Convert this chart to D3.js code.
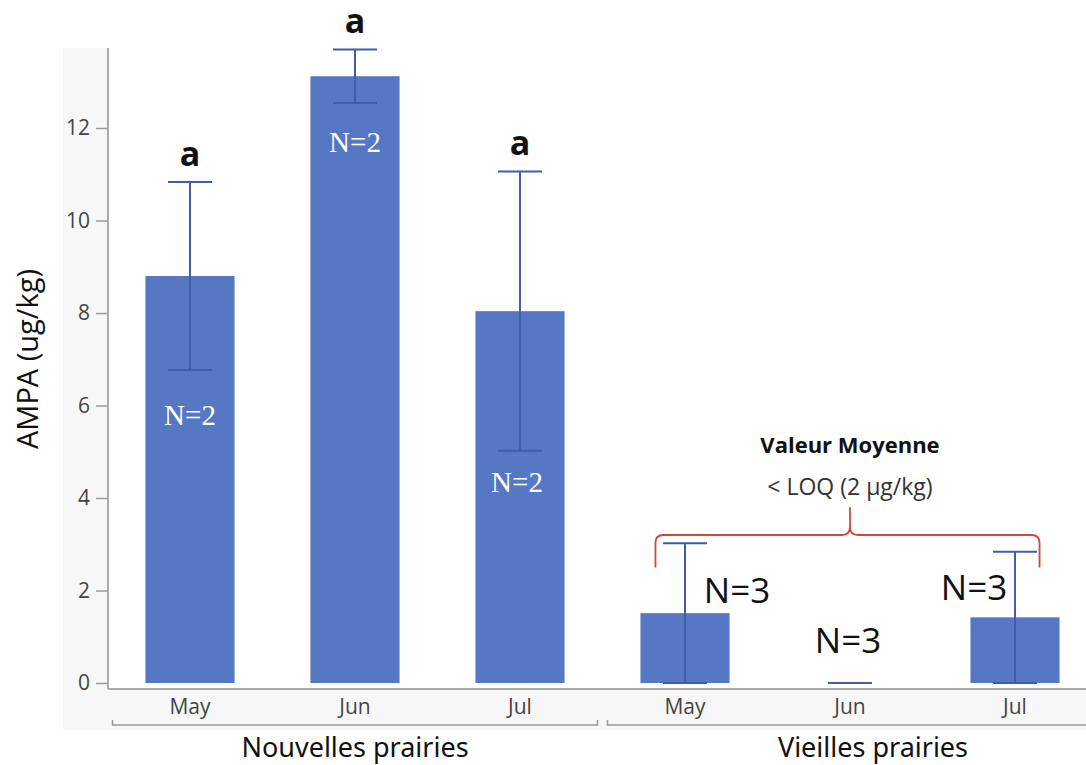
<!DOCTYPE html>
<html>
<head>
<meta charset="utf-8">
<script src="https://cdn.jsdelivr.net/npm/d3@7"></script>
<style>
  body { margin: 0; background: #fff; }
  svg { display: block; }
</style>
</head>
<body>
<div id="chart"></div>
<script>
// data
const groups = ['Nouvelles prairies', 'Vieilles prairies'];
const months = ['May', 'Jun', 'Jul'];
const means = [8.8, 13.12, 8.04, 1.51, 0, 1.42];
const errors = [2.03, 0.58, 3.02, 1.51, 0, 1.42];
const letters = ['a', 'a', 'a', '', '', ''];
const nLabels = ['N=2', 'N=2', 'N=2', 'N=3', 'N=3', 'N=3'];
const yTicks = [0, 2, 4, 6, 8, 10, 12];

// label anchors (value units) and horizontal nudges (px)
const nLabelAt = [5.58, 11.48, 4.13, 1.73, 0.65, 1.79];
const nLabelDx = [0, 0, -3, 52, -2, -41];

const width = 1086;
const height = 765;

const rows = [];
groups.forEach((g, gi) => {
  months.forEach((m, mi) => {
    const i = gi * months.length + mi;
    rows.push({
      key: `${g}|${m}`,
      group: g,
      month: m,
      mean: means[i],
      err: errors[i],
      letter: letters[i],
      n: nLabels[i],
      nAt: nLabelAt[i],
      nDx: nLabelDx[i],
      idx: i
    });
  });
});

const svg = d3
  .select('#chart')
  .append('svg')
  .attr('width', width)
  .attr('height', height);

const plotTop = 48;
const plotLeft = 108;
const baseY = 689;

// panel background
svg
  .append('rect')
  .attr('x', 63)
  .attr('y', plotTop)
  .attr('width', width - 63)
  .attr('height', 730 - plotTop)
  .attr('fill', '#f7f7f7');

svg
  .append('rect')
  .attr('x', plotLeft)
  .attr('y', plotTop)
  .attr('width', width - plotLeft)
  .attr('height', baseY - plotTop)
  .attr('fill', '#ffffff');

const xScale = d3
  .scaleBand()
  .domain(rows.map((d) => d.key))
  .range([107.5, 1097.5])
  .paddingInner(0.46)
  .paddingOuter(0.23);

const yScale = d3.scaleLinear().domain([0, 13.73]).range([683, plotTop]);

const cx = (d) => xScale(d.key) + xScale.bandwidth() / 2;

// y axis
const yAxis = svg
  .append('g')
  .attr('transform', `translate(${plotLeft},0)`)
  .call(d3.axisLeft(yScale).tickValues(yTicks).tickSize(12).tickPadding(6));
yAxis.select('.domain').remove();
yAxis.selectAll('.tick line').attr('stroke', '#9a9a9a').attr('stroke-width', 1.5);
yAxis
  .selectAll('.tick text')
  .style('font-family', 'Open Sans, sans-serif')
  .style('font-size', '21px')
  .attr('fill', '#444');

svg
  .append('line')
  .attr('x1', plotLeft)
  .attr('x2', plotLeft)
  .attr('y1', plotTop)
  .attr('y2', baseY)
  .attr('stroke', '#aaa')
  .attr('stroke-width', 2);

svg
  .append('line')
  .attr('x1', plotLeft)
  .attr('x2', width)
  .attr('y1', baseY)
  .attr('y2', baseY)
  .attr('stroke', '#aaa')
  .attr('stroke-width', 2);

// bars
svg
  .selectAll('rect.bar')
  .data(rows.filter((d) => d.mean > 0))
  .enter()
  .append('rect')
  .attr('class', 'bar')
  .attr('x', (d) => xScale(d.key))
  .attr('y', (d) => yScale(d.mean))
  .attr('width', xScale.bandwidth())
  .attr('height', (d) => yScale(0) - yScale(d.mean))
  .attr('fill', '#5677c4');

// error bars
const capHalf = 22;
const errG = svg
  .selectAll('g.err')
  .data(rows)
  .enter()
  .append('g')
  .attr('class', 'err')
  .attr('stroke', '#3f5ea6')
  .attr('stroke-width', 2);

errG
  .filter((d) => d.err > 0)
  .append('line')
  .attr('x1', cx)
  .attr('x2', cx)
  .attr('y1', (d) => yScale(Math.max(0, d.mean - d.err)))
  .attr('y2', (d) => yScale(d.mean + d.err));

errG
  .append('line')
  .attr('x1', (d) => cx(d) - capHalf)
  .attr('x2', (d) => cx(d) + capHalf)
  .attr('y1', (d) => yScale(d.mean + d.err))
  .attr('y2', (d) => yScale(d.mean + d.err));

errG
  .filter((d) => d.err > 0)
  .append('line')
  .attr('x1', (d) => cx(d) - capHalf)
  .attr('x2', (d) => cx(d) + capHalf)
  .attr('y1', (d) => yScale(Math.max(0, d.mean - d.err)))
  .attr('y2', (d) => yScale(Math.max(0, d.mean - d.err)));

// significance letters
svg
  .selectAll('text.letter')
  .data(rows.filter((d) => d.letter))
  .enter()
  .append('text')
  .attr('class', 'letter')
  .attr('x', cx)
  .attr('y', (d) => yScale(d.mean + d.err) - 16)
  .attr('text-anchor', 'middle')
  .style('font-family', 'Open Sans, sans-serif')
  .style('font-weight', 'bold')
  .style('font-size', '34px')
  .attr('fill', '#111')
  .text((d) => d.letter);

// N labels
svg
  .selectAll('text.nlab')
  .data(rows)
  .enter()
  .append('text')
  .attr('class', 'nlab')
  .attr('x', (d) => cx(d) + d.nDx)
  .attr('y', (d) => yScale(d.nAt))
  .attr('text-anchor', 'middle')
  .style('font-family', (d) =>
    d.idx < 3 ? 'Liberation Serif, serif' : 'Open Sans, sans-serif'
  )
  .style('font-size', (d) => (d.idx < 3 ? '29px' : '35px'))
  .attr('fill', (d) => (d.idx < 3 ? '#ffffff' : '#111'))
  .text((d) => d.n);

// month labels
svg
  .selectAll('text.month')
  .data(rows)
  .enter()
  .append('text')
  .attr('class', 'month')
  .attr('x', cx)
  .attr('y', 714)
  .attr('text-anchor', 'middle')
  .style('font-family', 'Open Sans, sans-serif')
  .style('font-size', '21px')
  .attr('fill', '#444')
  .text((d) => d.month);

// group brackets and labels
const groupRange = groups.map((g) => {
  const keys = rows.filter((d) => d.group === g).map((d) => d.key);
  return {
    group: g,
    x0: xScale(keys[0]) - (xScale.step() - xScale.bandwidth()) / 2,
    x1: xScale(keys[keys.length - 1]) + xScale.bandwidth() + (xScale.step() - xScale.bandwidth()) / 2
  };
});

svg
  .selectAll('path.bracket')
  .data(groupRange)
  .enter()
  .append('path')
  .attr('class', 'bracket')
  .attr('d', (d) => `M${d.x0 + 5},720V725H${d.x1 - 5}V720`)
  .attr('fill', 'none')
  .attr('stroke', '#999')
  .attr('stroke-width', 1.5);

svg
  .selectAll('text.group')
  .data(groupRange)
  .enter()
  .append('text')
  .attr('class', 'group')
  .attr('x', (d, i) => (i === 0 ? (d.x0 + d.x1) / 2 : 873))
  .attr('y', 757)
  .attr('text-anchor', 'middle')
  .style('font-family', 'Noto Sans, sans-serif')
  .style('font-size', '27px')
  .attr('fill', '#111')
  .text((d) => d.group);

// y axis title
svg
  .append('text')
  .attr('transform', 'rotate(-90)')
  .attr('x', -359)
  .attr('y', 38)
  .attr('text-anchor', 'middle')
  .style('font-family', 'Open Sans, sans-serif')
  .style('font-size', '29px')
  .attr('fill', '#111')
  .text('AMPA (ug/kg)');

// red brace over the old meadows
const vRows = rows.filter((d) => d.group === groups[1]);
const bx0 = xScale(vRows[0].key) + 15;
const bx1 = xScale(vRows[2].key) + xScale.bandwidth() - 20;
const bmid = cx(vRows[1]);
const by = yScale(3.2);
const bBot = yScale(2.5);
const bTip = yScale(3.8);
svg
  .append('path')
  .attr(
    'd',
    `M${bx0},${bBot}V${by + 8}Q${bx0},${by} ${bx0 + 8},${by}` +
      `H${bmid - 8}Q${bmid},${by} ${bmid},${by - 8}V${bTip}` +
      `M${bmid},${by - 8}Q${bmid},${by} ${bmid + 8},${by}` +
      `H${bx1 - 8}Q${bx1},${by} ${bx1},${by + 8}V${bBot}`
  )
  .attr('fill', 'none')
  .attr('stroke', '#cc4a3c')
  .attr('stroke-width', 1.8);

svg
  .append('text')
  .attr('x', bmid)
  .attr('y', 453)
  .attr('text-anchor', 'middle')
  .style('font-family', 'Open Sans, sans-serif')
  .style('font-weight', 'bold')
  .style('font-size', '22px')
  .attr('fill', '#111')
  .text('Valeur Moyenne');

svg
  .append('text')
  .attr('x', bmid)
  .attr('y', 495)
  .attr('text-anchor', 'middle')
  .style('font-family', 'Open Sans, sans-serif')
  .style('font-size', '23px')
  .attr('fill', '#333')
  .text('< LOQ (2 µg/kg)');
</script>
</body>
</html>
